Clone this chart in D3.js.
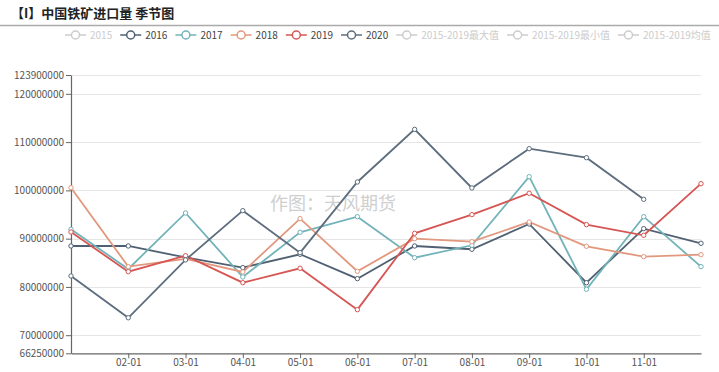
<html>
<head>
	<meta charset="utf-8">
	<script src="https://d3js.org/d3.v7.min.js"></script>
	<style>
		body { margin: 0; background: #fff; }
		text { font-family: "Noto Sans CJK SC", sans-serif; }
	</style>
</head>
<body>
	<script type="text/javascript">
		var width = 719
		var height = 372

		// x categories (month-day), only 02-01 .. 11-01 are labelled
		var months = ["01-01","02-01","03-01","04-01","05-01","06-01","07-01","08-01","09-01","10-01","11-01","12-01"]
		var tickMonths = ["02-01","03-01","04-01","05-01","06-01","07-01","08-01","09-01","10-01","11-01"]

		// imports, tonnes
		var s2016 = [88480000, 88480000, 86100000, 84000000, 86760000, 81710000, 88480000, 87800000, 93040000, 80880000, 92070000, 89040000]
		var s2017 = [91940000, 83720000, 95320000, 82060000, 91320000, 94550000, 86060000, 88630000, 102840000, 79510000, 94550000, 84200000]
		var s2018 = [100560000, 84200000, 85790000, 83100000, 94140000, 83240000, 90000000, 89370000, 93450000, 88420000, 86270000, 86680000]
		var s2019 = [91380000, 83160000, 86470000, 80880000, 83860000, 75290000, 91110000, 94970000, 99400000, 92900000, 90700000, 101390000]
		var s2020 = [82270000, 73610000, 85600000, 95800000, 87100000, 101740000, 112640000, 100500000, 108640000, 106770000, 98150000]

		var yTicks = [66250000, 70000000, 80000000, 90000000, 100000000, 110000000, 120000000, 123900000]
		var yGrid = [70000000, 80000000, 90000000, 100000000, 110000000, 120000000, 123900000]

		var legendNames = ["2015","2016","2017","2018","2019","2020","2015-2019最大值","2015-2019最小值","2015-2019均值"]

		var series = [
			{name: "2016", values: s2016, color: "#4f6072"},
			{name: "2017", values: s2017, color: "#72b3b9"},
			{name: "2018", values: s2018, color: "#e2987e"},
			{name: "2019", values: s2019, color: "#d65654"},
			{name: "2020", values: s2020, color: "#5d6d7e"}
		]
		var colorOf = {}
		series.forEach(function(s) { colorOf[s.name] = s.color })

		var svg = d3.select("body").append("svg")
			.attr("width", width)
			.attr("height", height)

		// title + underline
		svg.append("text")
			.attr("x", 11)
			.attr("y", 18)
			.attr("font-size", 13)
			.attr("font-weight", "bold")
			.attr("fill", "#222")
			.text("【I】中国铁矿进口量 季节图")
		svg.append("line")
			.attr("x1", 0).attr("x2", width)
			.attr("y1", 25.5).attr("y2", 25.5)
			.attr("stroke", "#aaa")
			.attr("stroke-width", 1.5)

		var scalex = d3.scalePoint().domain(months).range([71, 701])
		var scaley = d3.scaleLinear().domain([66250000, 123900000]).range([353.3, 75])

		// grid
		svg.append("g").selectAll("line")
			.data(yGrid)
			.enter()
			.append("line")
			.attr("x1", 71).attr("x2", 701)
			.attr("y1", d => Math.round(scaley(d)) + 0.5)
			.attr("y2", d => Math.round(scaley(d)) + 0.5)
			.attr("stroke", "#e6e6e6")

		// watermark
		svg.append("text")
			.attr("x", 333)
			.attr("y", 210)
			.attr("text-anchor", "middle")
			.attr("font-size", 18)
			.attr("fill", "#cfcfcf")
			.text("作图：天风期货")

		// axes
		var y_axis = d3.axisLeft(scaley)
			.tickValues(yTicks)
			.tickSize(5)
			.tickSizeOuter(0)
			.tickFormat(d3.format("d"))
		var x_axis = d3.axisBottom(scalex)
			.tickValues(tickMonths)
			.tickSize(5)
			.tickSizeOuter(0)

		var gy = svg.append("g").attr("transform", "translate(71,0)").call(y_axis)
		var gx = svg.append("g").attr("transform", "translate(0,353.3)").call(x_axis)
		;[gy, gx].forEach(function(g) {
			g.select(".domain").attr("stroke", "#666").attr("stroke-width", 1.2)
			g.selectAll(".tick line").attr("stroke", "#666")
			g.selectAll(".tick text").attr("fill", "#555").attr("font-size", 10)
				.attr("font-family", "\"Noto Sans CJK SC\", sans-serif")
		})
		gy.selectAll(".tick text").attr("x", -7)
		gx.selectAll(".tick text").attr("y", 6)

		// lines
		var line = d3.line()
			.x((d, i) => scalex(months[i]))
			.y(d => scaley(d))

		var gl = svg.append("g")
		series.forEach(function(s) {
			gl.append("path")
				.attr("d", line(s.values))
				.attr("fill", "none")
				.attr("stroke", s.color)
				.attr("stroke-width", 1.8)
		})
		series.forEach(function(s) {
			gl.selectAll(null)
				.data(s.values)
				.enter()
				.append("circle")
				.attr("cx", (d, i) => scalex(months[i]))
				.attr("cy", d => scaley(d))
				.attr("r", 2.2)
				.attr("fill", "#fff")
				.attr("stroke", s.color)
				.attr("stroke-width", 1)
		})

		// legend
		var lg = svg.append("g").attr("transform", "translate(0,35)")
		var lx = 65
		legendNames.forEach(function(name) {
			var c = colorOf[name] || "#ccc"
			var item = lg.append("g").attr("transform", "translate(" + lx + ",0)")
			item.append("line").attr("x1", 0).attr("x2", 21).attr("y1", 0).attr("y2", 0)
				.attr("stroke", c).attr("stroke-width", 1.5)
			item.append("circle").attr("cx", 10.5).attr("cy", 0).attr("r", 4)
				.attr("fill", "#fff").attr("stroke", c).attr("stroke-width", 1.5)
			var t = item.append("text").attr("x", 25).attr("y", 3.5)
				.attr("font-size", 10)
				.attr("fill", colorOf[name] ? "#444" : "#ccc")
				.text(name)
			lx += 25 + t.node().getComputedTextLength() + 8
		})
	</script>
</body>
</html>
